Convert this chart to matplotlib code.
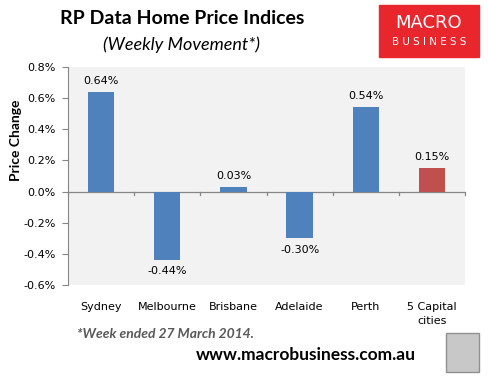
import matplotlib
matplotlib.use('Agg')
import matplotlib.pyplot as plt
from matplotlib.patches import Rectangle
import numpy as np

cities = ["Sydney", "Melbourne", "Brisbane", "Adelaide", "Perth", "5 Capital\ncities"]
changes = [0.64, -0.44, 0.03, -0.30, 0.54, 0.15]
bar_colors = ["#4F81BD"] * 5 + ["#C0504D"]
yticks = [-0.6, -0.4, -0.2, 0.0, 0.2, 0.4, 0.6, 0.8]

plt.rcParams['font.family'] = ['Lato', 'DejaVu Sans']
small = ['DejaVu Sans']

fig = plt.figure(figsize=(4.89, 3.76), dpi=100)
ax = fig.add_axes([0.139, 0.242, 0.812, 0.580])
ax.set_facecolor("#f2f2f2")

x = np.arange(len(cities))
ax.bar(x, changes, width=0.4, color=bar_colors, zorder=2)
for xi, v in zip(x, changes):
    if v >= 0:
        ax.text(xi, v + 0.04, "%.2f%%" % v, ha="center", va="bottom", fontsize=8, family=small)
    else:
        ax.text(xi, v - 0.04, "%.2f%%" % v, ha="center", va="top", fontsize=8, family=small)

ax.set_xlim(-0.5, len(cities) - 0.5)
ax.set_ylim(-0.6, 0.8)
ax.set_yticks(yticks)
ax.set_yticklabels(["%.1f%%" % t for t in yticks], fontsize=8, family=small)
ax.tick_params(axis="y", length=4, color="#868686", direction="out", pad=5)

# category axis drawn at zero
ax.axhline(0, color="#868686", lw=0.9, zorder=1)
for b in np.arange(-0.5, len(cities), 1.0):
    ax.plot([b, b], [0, -0.02], color="#868686", lw=0.9, clip_on=False, zorder=1)
ax.set_xticks(x)
ax.set_xticklabels(cities, fontsize=8, family=small, linespacing=1.5)
ax.tick_params(axis="x", length=0, pad=12)
for s in ["top", "right", "bottom"]:
    ax.spines[s].set_visible(False)
ax.spines["left"].set_color("#868686")
fig.text(16 / 489, 1 - 140 / 376, "Price Change", rotation=90, ha="center", va="center",
         fontsize=10, fontweight="bold")

fig.text(0.372, 0.952, "RP Data Home Price Indices", ha="center", va="center",
         fontsize=14, fontweight="bold")
fig.text(0.372, 0.882, "(Weekly Movement*)", ha="center", va="center",
         fontsize=13, style="italic")

# logo box
fig.patches.append(Rectangle((379 / 489, 1 - 57 / 376), 100 / 489, 52 / 376,
                             transform=fig.transFigure, color="#e8262b", zorder=0))
fig.text(429 / 489, 1 - 23 / 376, "MACRO", ha="center", va="center",
         color="white", fontsize=13, family=small)
fig.text(429 / 489, 1 - 42 / 376, "B U S I N E S S", ha="center", va="center",
         color="white", fontsize=7.5, family=small)

fig.text(77 / 489, 1 - 334 / 376, "*Week ended 27 March 2014.", ha="left", va="center",
         fontsize=10, style="italic", fontweight="bold", color="#595959")
fig.text(306 / 489, 1 - 355 / 376, "www.macrobusiness.com.au", ha="center", va="center",
         fontsize=12.5, fontweight="bold")

# fox badge placeholder
fig.patches.append(Rectangle((446 / 489, 1 - 372 / 376), 33 / 489, 39 / 376,
                             transform=fig.transFigure, facecolor="#c8c8c8",
                             edgecolor="#909090", lw=1))

fig.savefig("out.png", dpi=100)
